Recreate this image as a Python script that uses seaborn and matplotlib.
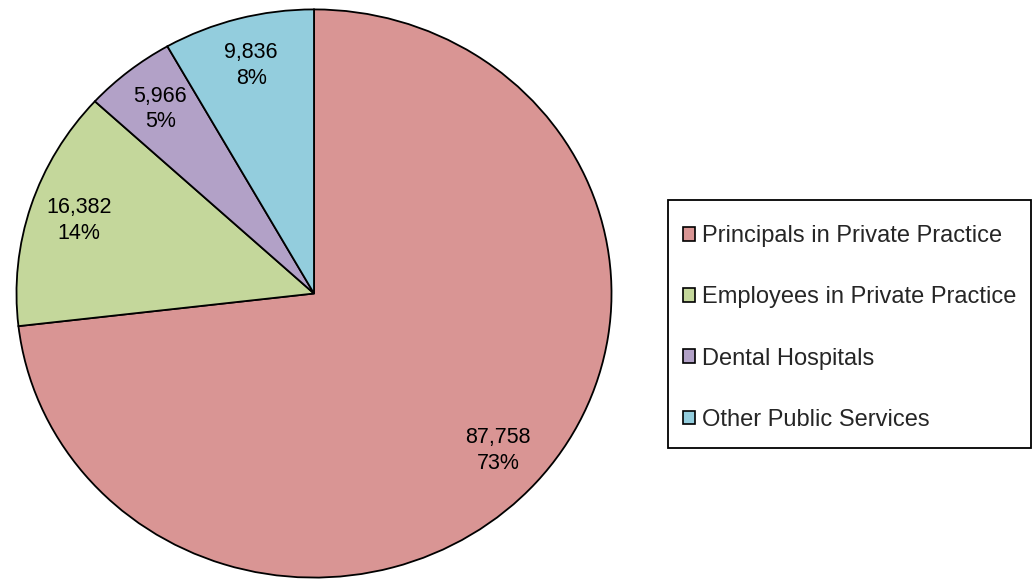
import matplotlib
matplotlib.use("Agg")
import matplotlib.pyplot as plt
import matplotlib.patches as mpatches
import seaborn as sns

categories = ["Principals in Private Practice", "Employees in Private Practice",
              "Dental Hospitals", "Other Public Services"]
counts = [87758, 16382, 5966, 9836]
colors = ["#D99594", "#C4D79B", "#B2A1C7", "#93CDDD"]

sns.set_style("white")
plt.rcParams["font.family"] = ["Liberation Sans", "DejaVu Sans"]

W, H = 1033, 581
fig = plt.figure(figsize=(W / 100, H / 100), dpi=100)
ax = fig.add_axes([15 / W, 2 / H, 598 / W, 571 / H])

total = sum(counts)

def label_fmt(pct):
    val = int(round(pct * total / 100.0))
    return f"{val:,}\n{pct:.0f}%"

wedges, texts, autotexts = ax.pie(
    counts, colors=colors, startangle=90, counterclock=False,
    autopct=label_fmt, pctdistance=0.83,
    wedgeprops=dict(edgecolor="black", linewidth=1.3),
    textprops=dict(fontsize=15.5, color="black", linespacing=1.3),
)
for t in autotexts:
    t.set_ha("center")
    t.set_va("center")
ax.set_aspect("auto")
ax.set_xlim(-1.005, 1.005)
ax.set_ylim(-1.005, 1.005)
ax.axis("off")

# legend frame drawn separately
frame = mpatches.Rectangle((668 / W, 1 - 448 / H), 363 / W, 248 / H,
                           transform=fig.transFigure, facecolor="white",
                           edgecolor="black", linewidth=1.3)
fig.patches.append(frame)

handles = [mpatches.Patch(facecolor=c, edgecolor="black", linewidth=1.2) for c in colors]
leg = fig.legend(handles, categories, loc="center left",
                 bbox_to_anchor=(683 / W, 1 - 328 / H),
                 fontsize=17, frameon=False,
                 handlelength=0.5, handleheight=0.5, handletextpad=0.3,
                 labelspacing=1.66, borderpad=0, borderaxespad=0)

fig.savefig("out.png", dpi=100)
